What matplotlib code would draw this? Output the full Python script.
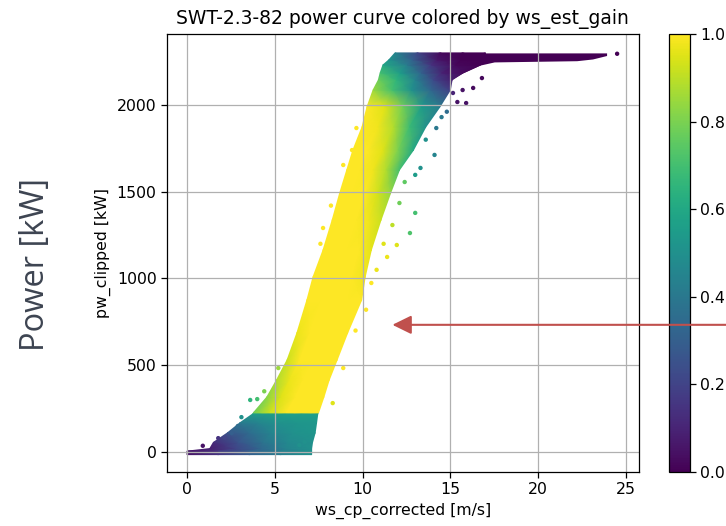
import numpy as np
import matplotlib
matplotlib.use('Agg')
import matplotlib.pyplot as plt

# power levels [kW] through the point cloud, with its left/right edges [m/s]
power = [-15, 5, 20, 55, 110, 167, 220, 228, 317, 415, 530, 686, 876, 1009,
         1164, 1337, 1493, 1625, 1740, 1873, 1988, 2086, 2144, 2184, 2230, 2260, 2300]
ws_left = [0.0, 0.0, 1.3, 1.5, 2.3, 3.0, 3.75, 3.8, 4.55, 5.1, 5.7, 6.26, 6.83, 7.18,
           7.75, 8.27, 8.7, 9.1, 9.45, 9.97, 10.25, 10.6, 10.9, 11.0, 11.16, 11.5, 11.85]
ws_right = [7.1, 7.1, 7.1, 7.15, 7.3, 7.38, 7.45, 7.5, 7.8, 8.1, 8.55, 9.15, 9.95, 10.15,
            10.5, 11.05, 11.6, 12.1, 12.9, 13.6, 14.4, 15.0, 15.1, 15.7, 16.7, 17.0, 17.0]

# ws_est_gain read across the cloud: left edge, 1/4, middle, 3/4, right edge
gain_left = [.05, .05, .08, .12, .25, .40, .55, .78, .82, .88, .92, .97, 1, 1,
             1, 1, 1, 1, 1, 1, 1, .85, .78, .70, .60, .52, .45]
gain_q1 = [.15, .15, .20, .25, .35, .45, .55, .92, .95, .97, 1, 1, 1, 1,
           1, 1, 1, 1, 1, .98, .95, .70, .65, .55, .42, .30, .20]
gain_mid = [.30, .30, .33, .38, .45, .50, .56, 1, 1, 1, 1, 1, 1, 1,
            1, 1, 1, .98, .95, .88, .78, .50, .45, .32, .15, .06, .02]
gain_q3 = [.42, .42, .45, .47, .50, .52, .56, 1, 1, 1, 1, 1, 1, 1,
           1, .98, .93, .88, .80, .68, .55, .33, .22, .10, .02, 0, 0]
gain_right = [.50, .50, .50, .50, .52, .53, .56, 1, 1, 1, 1, 1, 1, .98,
              .96, .92, .84, .70, .60, .50, .42, .18, .08, .02, 0, 0, 0]

# rated power plateau (gain ~0)
plateau_ws = [15.0, 15.7, 16.7, 17.5, 22.2, 23.1, 23.9]
plateau_low = [2144, 2184, 2230, 2248, 2255, 2265, 2285]
plateau_top = 2300

# stray points around the cloud edges
out_ws = [0.9, 1.78, 2.15, 2.55, 3.1, 3.6, 4.0, 5.2, 6.4, 6.7, 8.3, 8.9,
          7.75, 10.5, 11.4, 11.95, 11.7, 12.1, 12.4, 12.7, 13.0,
          8.9, 9.4, 9.65, 13.0, 13.3, 14.1, 14.2, 14.8, 15.15, 15.4, 15.7, 15.9, 16.3, 16.8, 24.5,
          9.6, 10.2, 10.8, 11.2, 7.6, 8.2, 2.9, 4.4, 13.6, 14.5]
out_pw = [36, 80, 82, 109, 201, 300, 305, 484, 40, 59, 282, 484,
          1291, 974, 1124, 1193, 1308, 1435, 1556, 1262, 1378,
          1654, 1740, 1867, 1597, 1637, 1712, 1867, 1961, 2069, 2017, 2086, 2011, 2098, 2155, 2295,
          700, 820, 1050, 1200, 1200, 1420, 150, 350, 1800, 1930]
out_gain = [.05, .15, .2, .3, .5, .65, .7, .85, .5, .5, .95, 1,
            1, 1, .97, .95, .9, .78, .75, .72, .7,
            1, 1, 1, .55, .5, .45, .4, .35, .1, .05, .05, .05, .03, .02, 0,
            1, 1, .97, .95, 1, 1, .35, .8, .5, .4]

fracs = [0, 0.25, 0.5, 0.75, 1]
left = np.array(ws_left)[:, None]
right = np.array(ws_right)[:, None]
X = left + (right - left) * np.array(fracs)[None, :]
Y = np.repeat(np.array(power, dtype=float)[:, None], len(fracs), axis=1)
C = np.column_stack([gain_left, gain_q1, gain_mid, gain_q3, gain_right])

fig = plt.figure(figsize=(7.26, 5.26), dpi=100)
ax = fig.add_axes([0.230, 0.1027, 0.650, 0.8327])
cax = fig.add_axes([0.9215, 0.1027, 0.0289, 0.8327])

cmap = plt.get_cmap('viridis')
ax.fill_between(plateau_ws, plateau_low, plateau_top, color=cmap(0.0), lw=0, zorder=1)
mesh = ax.pcolormesh(X, Y, C, shading='gouraud', cmap=cmap, vmin=0, vmax=1, zorder=1)
ax.scatter(out_ws, out_pw, c=out_gain, cmap=cmap, vmin=0, vmax=1, s=10,
           edgecolors='none', zorder=1)

ax.set_xlim(-1.14, 25.74)
ax.set_ylim(-115, 2409)
ax.set_xticks([0, 5, 10, 15, 20, 25])
ax.set_yticks([0, 500, 1000, 1500, 2000])
ax.grid(True, color='#b0b0b0', lw=0.9)
ax.tick_params(labelsize=11.3, width=0.9, length=4)
for s in ax.spines.values():
    s.set_linewidth(0.9)
ax.set_title('SWT-2.3-82 power curve colored by ws_est_gain', fontsize=13.5, pad=7)
ax.set_xlabel('ws_cp_corrected [m/s]', fontsize=11.3)
ax.set_ylabel('pw_clipped [kW]', fontsize=11.3)

cb = fig.colorbar(mesh, cax=cax, ticks=[0, 0.2, 0.4, 0.6, 0.8, 1.0])
cb.ax.tick_params(labelsize=11.3, width=0.9, length=4)
cb.outline.set_linewidth(0.9)

fig.text(0.049, 0.498, 'Power [kW]', rotation=90, ha='center', va='center',
         fontsize=23.5, family=['Open Sans', 'DejaVu Sans'], color='#3d4451')

# red pointer arrow
ax.set_zorder(3)
ax.annotate('', xy=(11.7, 733), xycoords='data',
            xytext=(1.0, 733), textcoords=('figure fraction', 'data'),
            arrowprops=dict(arrowstyle='-|>,head_length=0.55,head_width=0.27',
                            color='#c0504d', lw=1.5, mutation_scale=21,
                            shrinkA=0, shrinkB=0),
            annotation_clip=False)

fig.savefig('out.png', dpi=100)
